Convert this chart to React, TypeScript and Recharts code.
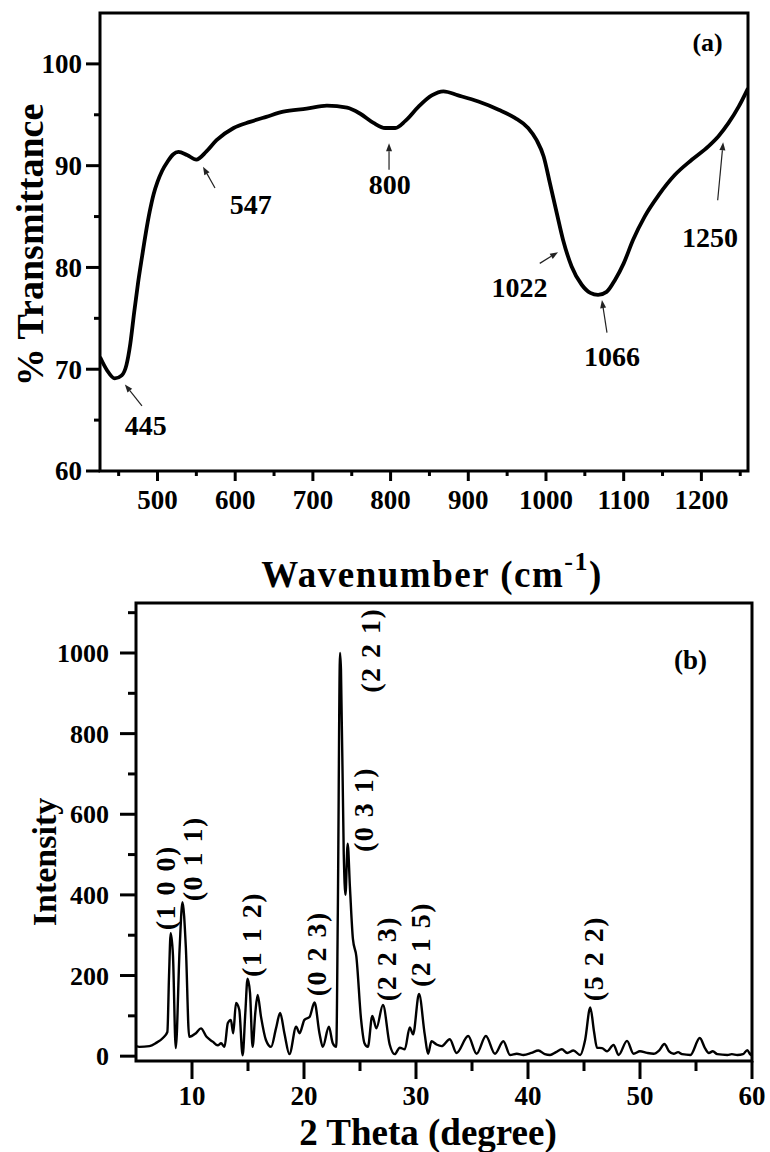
import React from 'react'
import {
  LineChart,
  Line,
  XAxis,
  YAxis,
  ReferenceArea,
  ReferenceLine,
  ReferenceDot,
} from 'recharts'

const SERIF = "Liberation Serif, Times New Roman, Times, serif"

// (a) FTIR spectrum
const wavenumber = [
  426, 435, 445, 454, 460, 465, 470, 475, 480, 485, 490, 495, 500, 506, 513, 520, 527, 538, 550,
  563, 576, 598, 619, 640, 662, 692, 718, 744, 761, 778, 793, 806, 819, 836, 853, 868, 887, 913,
  939, 960, 977, 988, 997, 1005, 1014, 1022, 1033, 1046, 1057, 1067, 1078, 1089, 1100, 1112, 1127,
  1145, 1166, 1188, 1209, 1222, 1235, 1248, 1260,
]
const transmittance = [
  71.2, 69.9, 69.1, 69.4, 70.4, 72.5, 75.6, 78.5, 81.0, 83.4, 85.5, 87.2, 88.4, 89.5, 90.4, 91.1,
  91.35, 91.05, 90.6, 91.4, 92.5, 93.7, 94.3, 94.8, 95.3, 95.6, 95.9, 95.7, 95.1, 94.2, 93.7, 93.7,
  94.4, 95.8, 96.9, 97.3, 96.9, 96.3, 95.5, 94.7, 93.7, 92.5, 90.9, 88.3, 85.3, 82.7, 80.1, 78.3,
  77.5, 77.3, 77.6, 78.8, 80.4, 82.7, 85.0, 87.1, 89.1, 90.6, 91.9, 92.9, 94.2, 95.8, 97.6,
]
const irXTicks = [450, 500, 550, 600, 650, 700, 750, 800, 850, 900, 950, 1000, 1050, 1100, 1150, 1200, 1250]
const irYTicks = [60, 65, 70, 75, 80, 85, 90, 95, 100]

// band labels, where their text sits, and arrow tail -> head (data units)
const bandLabels = ['445', '547', '800', '1022', '1066', '1250']
const bandTextAt = [[485, 64.5], [620, 86.2], [799, 88.2], [966, 78.1], [1085, 71.3], [1211, 83.0]]
const bandArrows = [
  [[480, 66.4], [458, 68.5]],
  [[574, 87.8], [558.6, 89.9]],
  [[798, 89.6], [798, 92.2]],
  [[992, 80.4], [1015.5, 81.5]],
  [[1078.5, 73.6], [1072, 76.8]],
  [[1221, 86.6], [1228, 92.3]],
]

// (b) XRD pattern
const twoTheta = [
  5.0, 5.3, 6.2, 6.8, 7.4, 7.8, 7.95, 8.1, 8.3, 8.55, 8.9, 9.15, 9.45, 9.75, 10.35, 10.8, 11.3,
  11.85, 12.3, 12.6, 12.9, 13.2, 13.47, 13.68, 13.93, 14.22, 14.52, 14.76, 14.96, 15.18, 15.41,
  15.65, 15.86, 16.16, 16.6, 17.06, 17.5, 17.87, 18.25, 18.7, 19.3, 19.6, 20.04, 20.49, 20.94,
  21.38, 21.68, 22.22, 22.57, 22.88, 23.02, 23.22, 23.3, 23.55, 23.7, 23.9, 24.1, 24.37, 24.67,
  25.1, 25.4, 25.7, 26.1, 26.46, 27.05, 27.65, 28.1, 28.55, 29.0, 29.44, 29.74, 30.27, 30.78,
  31.08, 31.38, 31.83, 32.28, 33.02, 33.62, 34.66, 35.41, 36.24, 37.05, 37.8, 38.4, 39.0, 39.6,
  40.3, 40.93, 41.5, 41.97, 42.5, 43.02, 43.5, 44.06, 44.66, 45.1, 45.56, 45.9, 46.16, 46.6,
  47.05, 47.64, 48.09, 48.84, 49.43, 50.0, 50.63, 51.22, 51.7, 52.18, 52.6, 53.01, 53.4, 53.76,
  54.5, 55.34, 55.8, 56.15, 56.5, 56.9, 57.8, 58.2, 58.69, 59.2, 59.58, 59.88, 60.0,
]
const intensity = [
  25, 23, 25, 33, 45, 60, 200, 305, 250, 20, 270, 382, 270, 48, 57, 69, 48,
  36, 27, 32, 23, 82, 90, 57, 132, 115, 2, 107, 192, 157, 23,
  107, 152, 98, 40, 23, 69, 107, 57, 5, 73, 57, 90, 97, 133,
  57, 23, 73, 32, 23, 357, 1000, 960, 500, 400, 527, 420, 290, 248,
  90, 32, 23, 100, 69, 127, 29, 5, 21, 17, 71, 54, 154, 54,
  6, 37, 29, 25, 42, 8, 50, 6, 50, 6, 37, 3, 6, 3,
  8, 14, 5, 3, 10, 17, 8, 14, 3, 40, 121, 60, 21, 20,
  12, 28, 3, 38, 6, 12, 8, 6, 14, 30, 12, 6, 10, 5,
  3, 45, 20, 8, 12, 5, 3, 5, 3, 5, 15, 3, 10,
]
const xrdXTicks = [10, 15, 20, 25, 30, 35, 40, 45, 50, 55, 60]
const xrdYTicks = [0, 100, 200, 300, 400, 500, 600, 700, 800, 900, 1000, 1100]

const planes = ['(1 0 0)', '(0 1 1)', '(1 1 2)', '(0 2 3)', '(2 2 1)', '(0 3 1)', '(2 2 3)', '(2 1 5)', '(5 2 2)']
const planeAt = [[7.6, 418], [10.05, 490], [15.3, 302], [21.1, 254], [25.9, 1007], [25.3, 612], [27.35, 242], [30.35, 277], [45.85, 242]]

const irData = wavenumber.map((w, i) => ({ wavenumber: w, transmittance: transmittance[i] }))
const xrdData = twoTheta.map((t, i) => ({ theta: t, intensity: intensity[i] }))

function axisTick(
  side: 'bottom' | 'left',
  isMajor: (v: number) => boolean,
  majorLen: number,
  minorLen: number,
  offset: number,
  fontSize: number,
) {
  return (p: any) => {
    const { x, y, payload } = p
    const v = payload.value
    const major = isMajor(v)
    const len = major ? majorLen : minorLen
    if (side === 'bottom') {
      return (
        <g>
          <line x1={x} x2={x} y1={y} y2={y + len} stroke="#000" strokeWidth={3} />
          {major && (
            <text x={x} y={y + offset} textAnchor="middle" fontFamily={SERIF} fontWeight="bold" fontSize={fontSize} fill="#000">
              {v}
            </text>
          )}
        </g>
      )
    }
    return (
      <g>
        <line x1={x - len} x2={x} y1={y} y2={y} stroke="#000" strokeWidth={3} />
        {major && (
          <text x={x - offset} y={y} dy="0.35em" textAnchor="end" fontFamily={SERIF} fontWeight="bold" fontSize={fontSize} fill="#000">
            {v}
          </text>
        )}
      </g>
    )
  }
}

function Arrow(p: any) {
  const { x1, y1, x2, y2 } = p
  const a = Math.atan2(y2 - y1, x2 - x1)
  const L = 8
  const W = 3
  const bx = x2 - L * Math.cos(a)
  const by = y2 - L * Math.sin(a)
  const pts = `${x2},${y2} ${bx - W * Math.sin(a)},${by + W * Math.cos(a)} ${bx + W * Math.sin(a)},${by - W * Math.cos(a)}`
  return (
    <g>
      <line x1={x1} y1={y1} x2={bx} y2={by} stroke="#222" strokeWidth={1.2} />
      <polygon points={pts} fill="#222" />
    </g>
  )
}

function FtirChart() {
  return (
    <LineChart width={770} height={600} data={irData} margin={{ top: 13, right: 22, bottom: 0, left: 0 }}>
      <XAxis
        type="number"
        dataKey="wavenumber"
        domain={[426, 1260]}
        ticks={irXTicks}
        interval={0}
        tickSize={0}
        tickMargin={0}
        axisLine={false}
        tickLine={false}
        height={129}
        allowDataOverflow
        tick={axisTick('bottom', (v) => v % 100 === 0, 10, 5, 38, 27)}
        label={() => (
          <text x={432} y={587} textAnchor="middle" fontFamily={SERIF} fontWeight="bold" fontSize={37} letterSpacing={1.5} fill="#000">
            <tspan>Wavenumber (cm</tspan>
            <tspan dy={-17} fontSize={26}>-1</tspan>
            <tspan dy={17}>)</tspan>
          </text>
        )}
      />
      <YAxis
        type="number"
        domain={[60, 105]}
        ticks={irYTicks}
        interval={0}
        tickSize={0}
        tickMargin={0}
        axisLine={false}
        tickLine={false}
        width={100}
        allowDataOverflow
        tick={axisTick('left', (v) => v % 10 === 0, 14, 6, 18, 27)}
        label={() => (
          <text x={43} y={245} transform="rotate(-90 43 245)" textAnchor="middle" fontFamily={SERIF} fontWeight="bold" fontSize={38} fill="#000">
            % Transmittance
          </text>
        )}
      />
      <ReferenceArea x1={426} x2={1260} y1={60} y2={105} fill="none" fillOpacity={0} stroke="#000" strokeWidth={3} />
      <Line type="monotone" dataKey="transmittance" stroke="#000" strokeWidth={3.8} dot={false} isAnimationActive={false} />
      {bandArrows.map(([from, to], i) => (
        <ReferenceLine
          key={`arrow-${i}`}
          segment={[{ x: from[0], y: from[1] }, { x: to[0], y: to[1] }]}
          shape={Arrow}
        />
      ))}
      {bandLabels.map((lab, i) => (
        <ReferenceDot
          key={`band-${lab}`}
          x={bandTextAt[i][0]}
          y={bandTextAt[i][1]}
          r={0}
          fill="none"
          stroke="none"
          label={{ value: lab, position: 'center', fontFamily: SERIF, fontWeight: 'bold', fontSize: 28, fill: '#000' }}
        />
      ))}
      <ReferenceDot
        x={1208}
        y={102.2}
        r={0}
        fill="none"
        stroke="none"
        label={{ value: '(a)', position: 'center', fontFamily: SERIF, fontWeight: 'bold', fontSize: 26, fill: '#000' }}
      />
    </LineChart>
  )
}

function XrdChart() {
  return (
    <LineChart width={770} height={592} data={xrdData} margin={{ top: 43, right: 18, bottom: 0, left: 0 }}>
      <XAxis
        type="number"
        dataKey="theta"
        domain={[5, 60]}
        ticks={xrdXTicks}
        interval={0}
        tickSize={0}
        tickMargin={0}
        axisLine={false}
        tickLine={false}
        height={91}
        allowDataOverflow
        tick={axisTick('bottom', (v) => v % 10 === 0, 18, 10, 44, 27)}
        label={() => (
          <text x={428} y={585} textAnchor="middle" fontFamily={SERIF} fontWeight="bold" fontSize={37} fill="#000">
            2 Theta (degree)
          </text>
        )}
      />
      <YAxis
        type="number"
        domain={[-12, 1124]}
        ticks={xrdYTicks}
        interval={0}
        tickSize={0}
        tickMargin={0}
        axisLine={false}
        tickLine={false}
        width={136}
        allowDataOverflow
        tick={axisTick('left', (v) => v % 200 === 0, 16, 8, 27, 26)}
        label={() => (
          <text x={56} y={302} transform="rotate(-90 56 302)" textAnchor="middle" fontFamily={SERIF} fontWeight="bold" fontSize={34} fill="#000">
            Intensity
          </text>
        )}
      />
      <ReferenceArea x1={5} x2={60} y1={-12} y2={1124} fill="none" fillOpacity={0} stroke="#000" strokeWidth={3} />
      <Line type="monotone" dataKey="intensity" stroke="#000" strokeWidth={2.4} dot={false} isAnimationActive={false} />
      {planes.map((lab, i) => (
        <ReferenceDot
          key={lab}
          x={planeAt[i][0]}
          y={planeAt[i][1]}
          r={0}
          fill="none"
          stroke="none"
          label={{
            value: lab,
            position: 'center',
            angle: -90,
            fontFamily: SERIF,
            fontWeight: 'bold',
            fontSize: 28,
            letterSpacing: 1.5,
            fill: '#000',
          }}
        />
      ))}
      <ReferenceDot
        x={54.5}
        y={983}
        r={0}
        fill="none"
        stroke="none"
        label={{ value: '(b)', position: 'center', fontFamily: SERIF, fontWeight: 'bold', fontSize: 27, fill: '#000' }}
      />
    </LineChart>
  )
}

export default function App() {
  return (
    <div style={{ position: 'absolute', left: 0, top: 0, width: 770, height: 1152, background: '#fff' }}>
      <div style={{ position: 'absolute', left: 0, top: 0 }}>
        <FtirChart />
      </div>
      <div style={{ position: 'absolute', left: 0, top: 560 }}>
        <XrdChart />
      </div>
    </div>
  )
}
